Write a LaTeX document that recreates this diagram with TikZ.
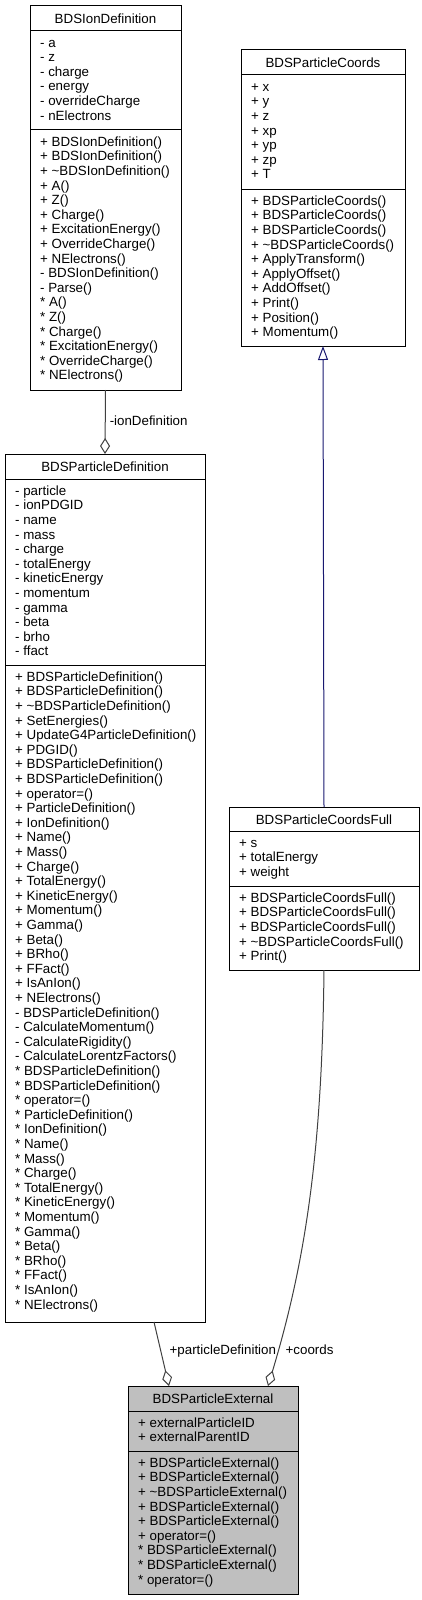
\documentclass[tikz,border=0pt]{standalone}
\usepackage{fontspec}
\setmainfont{Liberation Sans}
\usetikzlibrary{arrows.meta}
\usetikzlibrary{calc}
\definecolor{edgeGrey}{HTML}{404040}
\definecolor{inheritBlue}{HTML}{191970}
\definecolor{mainGrey}{HTML}{BFBFBF}
\tikzset{
	classBox/.style={draw=black, line width=1bp, rectangle, inner sep=0, outer sep=0},
	sepLine/.style={draw=black, line width=1bp},
	titleText/.style={inner sep=0, font=\fontsize{13.33bp}{14.6bp}\selectfont},
	memberText/.style={align=left, inner sep=0, font=\fontsize{13.33bp}{14.6bp}\selectfont},
	edgeLabel/.style={inner sep=0, text=black, font=\fontsize{13.33bp}{14.6bp}\selectfont},
	aggregation/.style={draw=edgeGrey, line width=1bp, -{Diamond[open, length=16bp, width=10bp]}},
	inheritance/.style={draw=inheritBlue, line width=1bp, -{Triangle[open, length=14bp, width=10bp]}}
}
\newcommand{\drawClassBox}[6]{
	\path let
		\p1 = (#2), \p2 = (#3)
		in
		node[classBox, fill=#6, minimum width={\x2-\x1}, minimum height={\y1-\y2}, anchor=north west] (#1) at (#2) {};
	\draw[sepLine] (#1.west |- 0,#4) -- (#1.east |- 0,#4);
	\draw[sepLine] (#1.west |- 0,#5) -- (#1.east |- 0,#5);
}
\newcommand{\writeClassText}[6]{
	\node[titleText, anchor=base] (#1Title) at ($(#1.north)+(0,17.2)$) {#4};
	\node[memberText, anchor=north west] (#1Attr) at ($(#1.west |- 0,#2)+(10,5.78)$) {\strut #5};
	\node[memberText, anchor=north west] (#1Meth) at ($(#1.west |- 0,#3)+(10,5.78)$) {\strut #6};
}

\begin{document}
\begin{tikzpicture}[x=1bp, y=-1bp]
	\useasboundingbox (0,0) rectangle (421,1600);

	\coordinate (ION_TL) at (30,6);
	\coordinate (ION_BR) at (181,390);
	\coordinate (COORDS_TL) at (241,50);
	\coordinate (COORDS_BR) at (405,346);
	\coordinate (DEF_TL) at (5,454);
	\coordinate (DEF_BR) at (205,1322);
	\coordinate (FULL_TL) at (229,807);
	\coordinate (FULL_BR) at (419,970);
	\coordinate (EXT_TL) at (128,1386);
	\coordinate (EXT_BR) at (298,1594);

	\drawClassBox{ionDef}{ION_TL}{ION_BR}{31}{130}{white}
	\writeClassText{ionDef}{31}{130}{BDSIonDefinition}
		{- a\\- z\\- charge\\- energy\\- overrideCharge\\- nElectrons}
		{+ BDSIonDefinition()\\+ BDSIonDefinition()\\+ \textasciitilde BDSIonDefinition()\\+ A()\\+ Z()\\+ Charge()\\+ ExcitationEnergy()\\+ OverrideCharge()\\+ NElectrons()\\- BDSIonDefinition()\\- Parse()\\* A()\\* Z()\\* Charge()\\* ExcitationEnergy()\\* OverrideCharge()\\* NElectrons()}

	\drawClassBox{coords}{COORDS_TL}{COORDS_BR}{75}{189}{white}
	\writeClassText{coords}{75}{189}{BDSParticleCoords}
		{+ x\\+ y\\+ z\\+ xp\\+ yp\\+ zp\\+ T}
		{+ BDSParticleCoords()\\+ BDSParticleCoords()\\+ BDSParticleCoords()\\+ \textasciitilde BDSParticleCoords()\\+ ApplyTransform()\\+ ApplyOffset()\\+ AddOffset()\\+ Print()\\+ Position()\\+ Momentum()}

	\drawClassBox{partDef}{DEF_TL}{DEF_BR}{479}{665}{white}
	\writeClassText{partDef}{479}{665}{BDSParticleDefinition}
		{- particle\\- ionPDGID\\- name\\- mass\\- charge\\- totalEnergy\\- kineticEnergy\\- momentum\\- gamma\\- beta\\- brho\\- ffact}
		{+ BDSParticleDefinition()\\+ BDSParticleDefinition()\\+ \textasciitilde BDSParticleDefinition()\\+ SetEnergies()\\+ UpdateG4ParticleDefinition()\\+ PDGID()\\+ BDSParticleDefinition()\\+ BDSParticleDefinition()\\+ operator=()\\+ ParticleDefinition()\\+ IonDefinition()\\+ Name()\\+ Mass()\\+ Charge()\\+ TotalEnergy()\\+ KineticEnergy()\\+ Momentum()\\+ Gamma()\\+ Beta()\\+ BRho()\\+ FFact()\\+ IsAnIon()\\+ NElectrons()\\- BDSParticleDefinition()\\- CalculateMomentum()\\- CalculateRigidity()\\- CalculateLorentzFactors()\\* BDSParticleDefinition()\\* BDSParticleDefinition()\\* operator=()\\* ParticleDefinition()\\* IonDefinition()\\* Name()\\* Mass()\\* Charge()\\* TotalEnergy()\\* KineticEnergy()\\* Momentum()\\* Gamma()\\* Beta()\\* BRho()\\* FFact()\\* IsAnIon()\\* NElectrons()}

	\drawClassBox{coordsFull}{FULL_TL}{FULL_BR}{831}{886}{white}
	\writeClassText{coordsFull}{831}{886}{BDSParticleCoordsFull}
		{+ s\\+ totalEnergy\\+ weight}
		{+ BDSParticleCoordsFull()\\+ BDSParticleCoordsFull()\\+ BDSParticleCoordsFull()\\+ \textasciitilde BDSParticleCoordsFull()\\+ Print()}

	\drawClassBox{ext}{EXT_TL}{EXT_BR}{1411}{1451}{mainGrey}
	\writeClassText{ext}{1411}{1451}{BDSParticleExternal}
		{+ externalParticleID\\+ externalParentID}
		{+ BDSParticleExternal()\\+ BDSParticleExternal()\\+ \textasciitilde BDSParticleExternal()\\+ BDSParticleExternal()\\+ BDSParticleExternal()\\+ operator=()\\* BDSParticleExternal()\\* BDSParticleExternal()\\* operator=()}

	\draw[aggregation] (ionDef.south) -- node[edgeLabel, anchor=west, xshift=4bp, yshift=1bp] (ionLabel) {-ionDefinition} (partDef.north);
	\draw[inheritance] (coordsFull.north) -- (coords.south);
	\draw[aggregation] ([xshift=49bp]partDef.south) -- ([xshift=-44bp]ext.north);
	\draw[aggregation] (coordsFull.south) .. controls ($(coordsFull.south)+(-2,180)$) and ($(ext.north)+(93,-126)$) .. ([xshift=55bp]ext.north);
	\node[edgeLabel, anchor=base west] (partDefLabel) at ($(ext.north)+(-43.5,-32)$) {+particleDefinition};
	\node[edgeLabel, anchor=base west] (coordsLabel) at ($(ext.north)+(72.5,-32)$) {+coords};
\end{tikzpicture}
\end{document}
